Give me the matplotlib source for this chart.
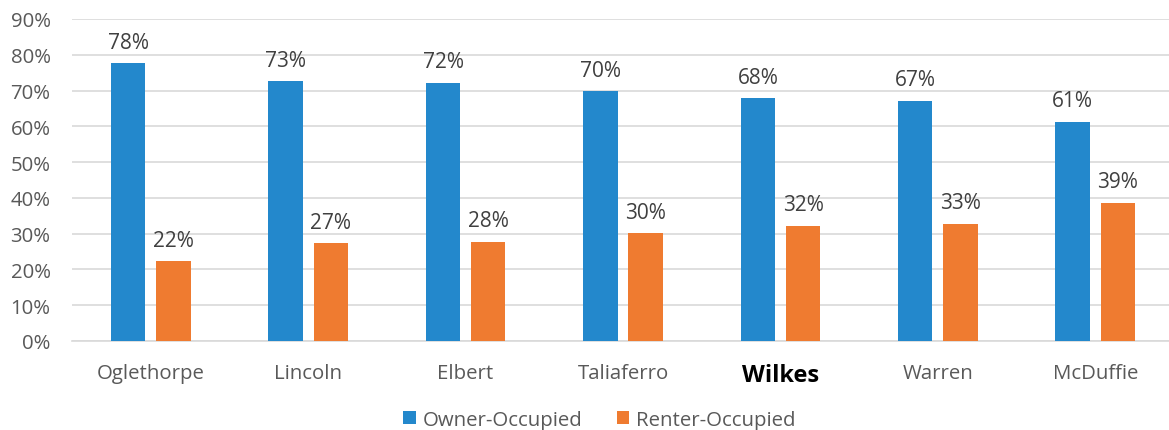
import numpy as np
import matplotlib
matplotlib.use('Agg')
from matplotlib import pyplot as plt
from matplotlib.ticker import PercentFormatter

plt.rcParams['font.family'] = ['Open Sans', 'DejaVu Sans']

counties = ['Oglethorpe', 'Lincoln', 'Elbert', 'Taliaferro', 'Wilkes', 'Warren', 'McDuffie']
owner = [77.7, 72.6, 72.2, 69.8, 67.8, 67.2, 61.3]
renter = [22.3, 27.4, 27.8, 30.2, 32.2, 32.8, 38.7]

blue = '#2388cc'
orange = '#ef7b30'

fig = plt.figure(figsize=(11.69, 4.31), dpi=100)
# plot area runs a little past the right edge of the picture
ax = fig.add_axes([0.0617, 0.2065, 0.9425, 0.7471])

x = np.arange(len(counties))
w = 0.218
off = 0.1436
b1 = ax.bar(x - off, owner, w, color=blue, label='Owner-Occupied', zorder=3)
b2 = ax.bar(x + off, renter, w, color=orange, label='Renter-Occupied', zorder=3)

for bars, vals in ((b1, owner), (b2, renter)):
    for b, v in zip(bars, vals):
        ax.text(b.get_x() + b.get_width() / 2, v + 2.9, '%d%%' % round(v),
                ha='center', va='bottom', fontsize=15, color='#404040')

ax.set_xlim(-0.5, len(counties) - 0.5)
ax.set_ylim(0, 90)
ax.set_yticks(np.arange(0, 91, 10))
ax.yaxis.set_major_formatter(PercentFormatter(decimals=0))
ax.grid(axis='y', color='#d9d9d9', linewidth=1.2, zorder=0)
for s in ['top', 'right', 'left']:
    ax.spines[s].set_visible(False)
ax.spines['bottom'].set_color('#d9d9d9')
ax.spines['bottom'].set_linewidth(1.2)
ax.tick_params(axis='both', length=0, labelsize=14.7, colors='#595959')
ax.tick_params(axis='x', pad=16)
ax.tick_params(axis='y', pad=15.5)
ax.set_xticks(x)
ax.set_xticklabels(counties)
for lbl in ax.get_xticklabels():
    if lbl.get_text() == 'Wilkes':
        lbl.set_fontweight('bold')
        lbl.set_color('black')
        lbl.set_fontsize(17)

fig.legend(handles=[b1, b2], loc='center', bbox_to_anchor=(0.513, 0.024), ncol=2,
           frameon=False, fontsize=14.7, handlelength=0.62, handleheight=0.62,
           columnspacing=1.65, handletextpad=0.35, labelcolor='#595959')

fig.savefig('out.png', dpi=100)
